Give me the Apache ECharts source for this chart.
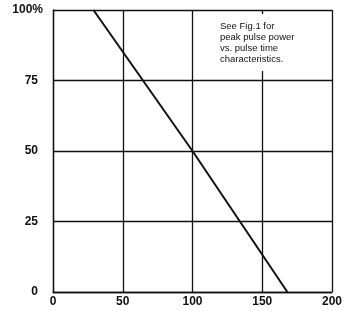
<!DOCTYPE html>
<html>
<head>
<meta charset="utf-8">
<script src="https://cdn.jsdelivr.net/npm/echarts@6/dist/echarts.min.js"></script>
<style>
  html, body { margin: 0; padding: 0; background: #fff; }
  #chart { width: 352px; height: 311px; }
</style>
</head>
<body>
<div id="chart"></div>
<script>
const xTicks = [0, 50, 100, 150, 200];
const yTicks = [0, 25, 50, 75, 100];
const pulseTime = [29, 100, 168];
const pulsePower = [100, 50, 0];
const noteLines = ["See Fig.1 for", "peak pulse power", "vs. pulse time", "characteristics."];

const ink = "#111";
const font = "Liberation Sans, Arial, sans-serif";
const gridLine = { lineStyle: { color: ink, width: 1.3 } };

const chart = echarts.init(document.getElementById("chart"));

chart.setOption({
  animation: false,
  grid: { left: 53, right: 20, top: 10, bottom: 19 },
  xAxis: {
    type: "value",
    min: xTicks[0],
    max: xTicks[xTicks.length - 1],
    interval: xTicks[1] - xTicks[0],
    axisLine: gridLine,
    axisTick: { show: false },
    splitLine: gridLine,
    axisLabel: {
      margin: 4,
      color: ink,
      fontFamily: font,
      fontSize: 12,
      fontWeight: "bold",
      showMaxLabel: true
    }
  },
  yAxis: {
    type: "value",
    min: yTicks[0],
    max: yTicks[yTicks.length - 1],
    interval: yTicks[1] - yTicks[0],
    axisLine: { show: true, lineStyle: { color: ink, width: 1.3 } },
    axisTick: { show: false },
    splitLine: gridLine,
    axisLabel: {
      margin: 10,
      color: ink,
      fontFamily: font,
      fontSize: 12,
      fontWeight: "bold",
      formatter: (v) => (v === 100 ? "{a|100%}" : "{b|" + v + "}"),
      rich: {
        a: { fontFamily: font, fontSize: 12, fontWeight: "bold", color: ink },
        b: { fontFamily: font, fontSize: 12, fontWeight: "bold", color: ink, padding: [0, 5, 0, 0] }
      }
    }
  },
  graphic: [{
    type: "text",
    left: 208,
    top: 14,
    z: 10,
    style: {
      text: noteLines.join("\n"),
      font: "9.5px " + font,
      fill: ink,
      lineHeight: 11,
      backgroundColor: "#fff",
      padding: [7, 14, 6, 12]
    }
  }],
  series: [{
    type: "line",
    data: pulseTime.map((t, i) => [t, pulsePower[i]]),
    symbol: "none",
    lineStyle: { color: ink, width: 2 },
    z: 5
  }]
});
</script>
</body>
</html>
